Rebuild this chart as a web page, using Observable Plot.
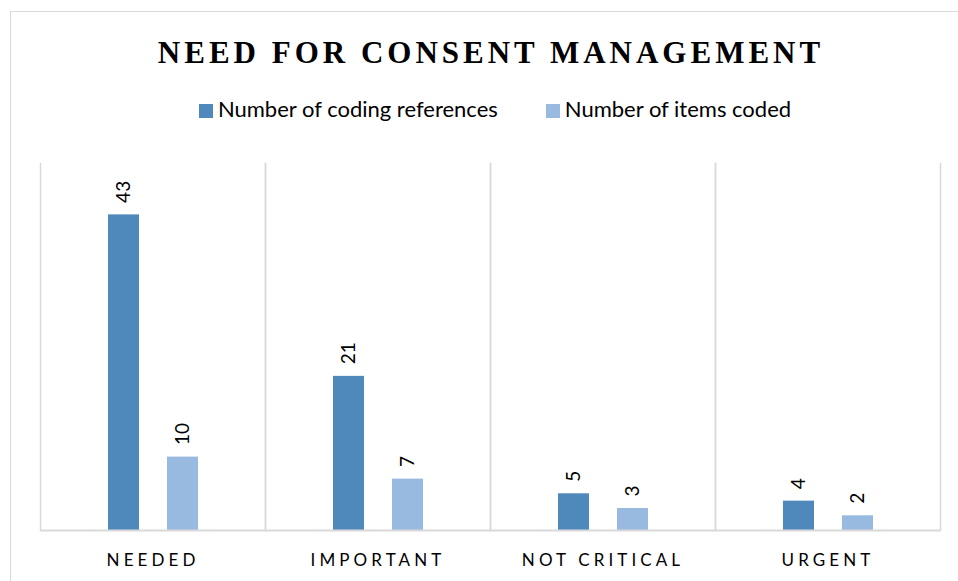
<!DOCTYPE html>
<html><head><meta charset="utf-8">
<script src="https://cdn.jsdelivr.net/npm/d3@7"></script>
<script src="https://cdn.jsdelivr.net/npm/@observablehq/plot@0.6"></script>
<style>
body{margin:0;background:#fff}
#page{position:relative;width:958px;height:581px;overflow:hidden;background:#fff}
#border{position:absolute;left:10px;top:11px;width:960px;height:600px;border:1.5px solid #d9d9d9;box-sizing:border-box}
#title{position:absolute;left:0;width:982px;top:35px;text-align:center;font:bold 31px "Liberation Serif";letter-spacing:4px;color:#000;margin:0}
#legend{position:absolute;left:0;width:990px;top:98px;display:flex;justify-content:center;gap:48px;font:22px Lato;line-height:22px;color:#000}
#legend .item{display:flex;align-items:center;gap:5px}
#legend .sw{width:14px;height:14px;display:inline-block;position:relative;top:1.5px}
#chart{position:absolute;left:0;top:150px}
#chart g[aria-label="fx-axis tick label"] text{letter-spacing:4.1px}
</style></head>
<body>
<div id="page">
  <div id="border"></div>
  <h1 id="title">NEED FOR CONSENT MANAGEMENT</h1>
  <div id="legend"></div>
  <div id="chart"></div>
</div>
<script>
const categories = ["NEEDED", "IMPORTANT", "NOT CRITICAL", "URGENT"];
const series = ["Number of coding references", "Number of items coded"];
const codingReferences = [43, 21, 5, 4];
const itemsCoded = [10, 7, 3, 2];
const colors = ["#4f88bb", "#98b9e0"];

const data = categories.flatMap((c, i) => [
  {category: c, series: series[0], value: codingReferences[i]},
  {category: c, series: series[1], value: itemsCoded[i]}
]);

const legend = document.getElementById("legend");
series.forEach((s, i) => {
  const item = document.createElement("div");
  item.className = "item";
  const sw = document.createElement("span");
  sw.className = "sw";
  sw.style.background = colors[i];
  const t = document.createElement("span");
  t.textContent = s;
  item.append(sw, t);
  legend.append(item);
});

const chart = Plot.plot({
  width: 958,
  height: 431,
  marginTop: 13,
  marginBottom: 51,
  marginLeft: 39,
  marginRight: 18,
  style: {fontFamily: "Lato", background: "transparent", color: "#000"},
  fx: {domain: categories, padding: 0, label: null},
  x: {domain: series, paddingInner: 0.475, paddingOuter: 1.144, axis: null},
  y: {domain: [0, 50], axis: null},
  color: {domain: series, range: colors},
  marks: [
    Plot.frame({anchor: "left", stroke: "#d9d9d9", strokeWidth: 1.5}),
    Plot.frame({anchor: "right", stroke: "#d9d9d9", strokeWidth: 1.5}),
    Plot.barY(data, {fx: "category", x: "series", y: "value", fill: "series"}),
    Plot.ruleY([0], {stroke: "#d9d9d9", strokeWidth: 2}),
    Plot.text(data, {fx: "category", x: "series", y: "value", text: d => String(d.value),
      rotate: -90, textAnchor: "start", dy: -12, fontSize: 19, fill: "#000"}),
    Plot.axisFx({anchor: "bottom", tickSize: 0, tickPadding: 23, fontSize: 17, label: null})
  ]
});
document.getElementById("chart").append(chart);
</script>
</body></html>
